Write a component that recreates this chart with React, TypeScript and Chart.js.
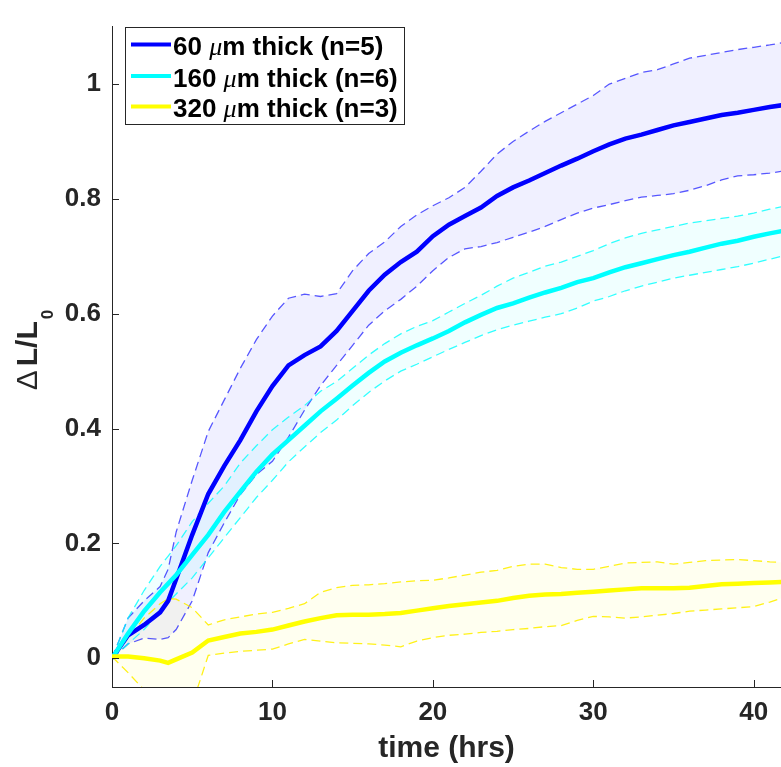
import React, { useEffect, useRef } from 'react';
import { Chart, registerables } from 'chart.js';

Chart.register(...registerables);

// time (hrs)
const timeHrs = [0, 1, 2, 3, 3.5, 4, 5, 6, 7, 8, 9, 10, 11, 12, 13, 14, 15, 16, 17, 18, 19, 20, 21, 22, 23, 24, 25, 26, 27, 28, 29, 30, 31, 32, 33, 34, 35, 36, 37, 38, 39, 40, 41, 42];

// 60 um thick (n=5)
const mean60 = [0, 0.04, 0.058, 0.08, 0.1, 0.138, 0.215, 0.286, 0.335, 0.38, 0.43, 0.474, 0.51, 0.528, 0.543, 0.57, 0.605, 0.64, 0.668, 0.69, 0.708, 0.735, 0.755, 0.77, 0.785, 0.805, 0.82, 0.832, 0.845, 0.858, 0.87, 0.883, 0.895, 0.905, 0.912, 0.92, 0.928, 0.934, 0.94, 0.946, 0.95, 0.955, 0.96, 0.964];
const upper60 = [0, 0.07, 0.1, 0.125, 0.155, 0.22, 0.31, 0.395, 0.45, 0.505, 0.555, 0.596, 0.627, 0.634, 0.63, 0.635, 0.675, 0.705, 0.725, 0.752, 0.772, 0.788, 0.802, 0.82, 0.848, 0.878, 0.9, 0.918, 0.935, 0.95, 0.965, 0.98, 1.0, 1.01, 1.02, 1.025, 1.035, 1.045, 1.05, 1.055, 1.06, 1.064, 1.068, 1.073];
const lower60 = [0, 0.025, 0.035, 0.033, 0.036, 0.05, 0.1, 0.184, 0.236, 0.285, 0.32, 0.343, 0.385, 0.432, 0.475, 0.51, 0.545, 0.58, 0.605, 0.625, 0.648, 0.675, 0.698, 0.713, 0.717, 0.724, 0.733, 0.742, 0.752, 0.764, 0.775, 0.784, 0.79, 0.797, 0.803, 0.806, 0.809, 0.815, 0.823, 0.833, 0.84, 0.842, 0.845, 0.849];

// 160 um thick (n=6)
const mean160 = [0, 0.043, 0.082, 0.115, 0.13, 0.145, 0.18, 0.215, 0.255, 0.29, 0.325, 0.355, 0.38, 0.405, 0.43, 0.452, 0.475, 0.497, 0.517, 0.532, 0.545, 0.557, 0.57, 0.585, 0.598, 0.61, 0.618, 0.628, 0.637, 0.645, 0.655, 0.662, 0.672, 0.681, 0.688, 0.695, 0.702, 0.708, 0.715, 0.722, 0.727, 0.734, 0.74, 0.745];
const upper160 = [0, 0.07, 0.118, 0.16, 0.178, 0.196, 0.238, 0.27, 0.3, 0.34, 0.37, 0.398, 0.42, 0.44, 0.465, 0.482, 0.505, 0.528, 0.548, 0.565, 0.578, 0.588, 0.603, 0.618, 0.632, 0.648, 0.662, 0.672, 0.683, 0.69, 0.7, 0.71, 0.722, 0.732, 0.74, 0.746, 0.752, 0.758, 0.762, 0.766, 0.77, 0.775, 0.782, 0.788];
const lower160 = [0, 0.025, 0.05, 0.082, 0.098, 0.112, 0.14, 0.175, 0.21, 0.245, 0.28, 0.31, 0.342, 0.368, 0.393, 0.415, 0.44, 0.463, 0.483, 0.5, 0.512, 0.525, 0.538, 0.55, 0.562, 0.572, 0.58, 0.587, 0.594, 0.6, 0.61, 0.622, 0.63, 0.64, 0.648, 0.655, 0.662, 0.667, 0.672, 0.677, 0.682, 0.688, 0.695, 0.702];

// 320 um thick (n=3)
const mean320 = [0.003, 0.003, 0.0, -0.004, -0.008, -0.002, 0.01, 0.031, 0.037, 0.043, 0.046, 0.05, 0.057, 0.064, 0.07, 0.075, 0.076, 0.076, 0.077, 0.079, 0.083, 0.087, 0.091, 0.094, 0.097, 0.1, 0.105, 0.109, 0.111, 0.112, 0.114, 0.116, 0.118, 0.12, 0.122, 0.122, 0.122, 0.123, 0.126, 0.129, 0.13, 0.131, 0.132, 0.133];
const upper320 = [0.003, 0.035, 0.07, 0.095, 0.104, 0.103, 0.088, 0.058, 0.067, 0.072, 0.077, 0.08, 0.087, 0.095, 0.115, 0.123, 0.127, 0.128, 0.13, 0.133, 0.135, 0.136, 0.14, 0.145, 0.15, 0.153, 0.16, 0.164, 0.164, 0.158, 0.155, 0.155, 0.16, 0.166, 0.167, 0.168, 0.164, 0.167, 0.17, 0.171, 0.172, 0.17, 0.168, 0.167];
const lower320 = [0.003, -0.025, -0.055, -0.09, -0.1, -0.1, -0.08, 0.005, 0.009, 0.012, 0.014, 0.016, 0.025, 0.033, 0.03, 0.027, 0.026, 0.025, 0.023, 0.02, 0.03, 0.036, 0.04, 0.042, 0.045, 0.047, 0.05, 0.052, 0.055, 0.057, 0.066, 0.073, 0.072, 0.07, 0.072, 0.075, 0.078, 0.082, 0.084, 0.086, 0.088, 0.09, 0.098, 0.107];

const xTickValues = [0, 10, 20, 30, 40];
const xTickLabels = ['0', '10', '20', '30', '40'];
const yTickValues = [0, 0.2, 0.4, 0.6, 0.8, 1];
const yTickLabels = ['0', '0.2', '0.4', '0.6', '0.8', '1'];

const legendLabels = ['60 μm thick (n=5)', '160 μm thick (n=6)', '320 μm thick (n=3)'];
const seriesColors = ['#0000FF', '#00FFFF', '#FFFF00'];
const dashColors = ['rgba(0,0,255,0.65)', 'rgba(0,255,255,0.8)', 'rgba(255,240,0,0.9)'];
const fillColors = ['rgba(0,0,255,0.06)', 'rgba(0,255,255,0.06)', 'rgba(255,255,0,0.06)'];

const xTitle = 'time (hrs)';
const AXIS = '#262626';
const FONT = "'Liberation Sans', Arial, Helvetica, sans-serif";

const pts = (arr: number[]) => arr.map((v, i) => ({ x: timeHrs[i], y: v }));

const overlayPlugin = {
  id: 'overlay',
  afterDraw(chart: any) {
    const { ctx, chartArea, scales } = chart;
    ctx.save();
    // inward tick marks
    ctx.strokeStyle = AXIS;
    ctx.lineWidth = 1;
    xTickValues.forEach((v) => {
      const px = Math.round(scales.x.getPixelForValue(v)) + 0.5;
      ctx.beginPath();
      ctx.moveTo(px, chartArea.bottom);
      ctx.lineTo(px, chartArea.bottom - 7);
      ctx.stroke();
    });
    yTickValues.forEach((v) => {
      const py = Math.round(scales.y.getPixelForValue(v)) + 0.5;
      ctx.beginPath();
      ctx.moveTo(chartArea.left, py);
      ctx.lineTo(chartArea.left + 7, py);
      ctx.stroke();
    });

    // legend
    const bx = 125.5, by = 27.5, bw = 279, bh = 97;
    ctx.fillStyle = '#ffffff';
    ctx.fillRect(bx, by, bw, bh);
    ctx.strokeStyle = AXIS;
    ctx.lineWidth = 1;
    ctx.strokeRect(bx, by, bw, bh);
    const baselines = [55, 86.5, 117];
    legendLabels.forEach((label, i) => {
      const base = baselines[i];
      ctx.strokeStyle = seriesColors[i];
      ctx.lineWidth = 4;
      ctx.beginPath();
      ctx.moveTo(131, base - 10.5);
      ctx.lineTo(171, base - 10.5);
      ctx.stroke();
      const [pre, post] = label.split('μ');
      let x = 173;
      ctx.fillStyle = '#000000';
      ctx.textBaseline = 'alphabetic';
      ctx.textAlign = 'left';
      ctx.font = `bold 26px ${FONT}`;
      ctx.fillText(pre, x, base);
      x += ctx.measureText(pre).width;
      ctx.font = `italic 26px 'Liberation Serif', 'Times New Roman', serif`;
      ctx.fillText('μ', x, base);
      x += ctx.measureText('μ').width;
      ctx.font = `bold 26px ${FONT}`;
      ctx.fillText(post, x, base);
    });

    // y title: ΔL/L0 rotated
    ctx.fillStyle = AXIS;
    ctx.translate(36.5, 350);
    ctx.rotate(-Math.PI / 2);
    ctx.textBaseline = 'alphabetic';
    ctx.textAlign = 'left';
    const deltaFont = `30px ${FONT}`;
    const mainFont = `bold 30px ${FONT}`;
    const subFont = `bold 17px ${FONT}`;
    ctx.font = deltaFont;
    const wD = ctx.measureText('Δ').width;
    ctx.font = mainFont;
    const wL = ctx.measureText('L/L').width;
    ctx.font = subFont;
    const wS = ctx.measureText('0').width;
    const gap1 = 4, gap2 = 2;
    const total = wD + gap1 + wL + gap2 + wS;
    let tx = -total / 2;
    ctx.font = deltaFont;
    ctx.fillText('Δ', tx, 0);
    tx += wD + gap1;
    ctx.font = mainFont;
    ctx.fillText('L/L', tx, 0);
    tx += wL + gap2;
    ctx.font = subFont;
    ctx.fillText('0', tx, 16);
    ctx.restore();
  },
};

export default function App() {
  const canvasRef = useRef<HTMLCanvasElement | null>(null);

  useEffect(() => {
    const canvas = canvasRef.current;
    if (!canvas) return;
    const solid = (data: number[], i: number) => ({
      data: pts(data),
      borderColor: seriesColors[i],
      borderWidth: 4.5,
      pointRadius: 0,
      tension: 0,
      fill: false,
    });
    const dashed = (data: number[], i: number, fillTarget: number | false) => ({
      data: pts(data),
      borderColor: dashColors[i],
      backgroundColor: fillColors[i],
      borderWidth: 1.3,
      borderDash: [9, 5],
      pointRadius: 0,
      tension: 0,
      fill: fillTarget === false ? false : { target: fillTarget, above: fillColors[i], below: fillColors[i] },
    });

    const chart = new Chart(canvas, {
      type: 'line',
      data: {
        datasets: [
          solid(mean320, 2), // 0
          solid(mean160, 1), // 1
          solid(mean60, 0), // 2
          dashed(upper320, 2, 4), // 3
          dashed(lower320, 2, false), // 4
          dashed(upper160, 1, 6), // 5
          dashed(lower160, 1, false), // 6
          dashed(upper60, 0, 8), // 7
          dashed(lower60, 0, false), // 8
        ] as any,
      },
      options: {
        animation: false,
        responsive: false,
        devicePixelRatio: 1,
        layout: { padding: { top: 14, right: 0, left: 0, bottom: 0 } },
        plugins: {
          legend: { display: false },
          tooltip: { enabled: false },
          filler: { drawTime: 'beforeDatasetsDraw' } as any,
        },
        scales: {
          x: {
            type: 'linear',
            min: 0,
            max: 41.7,
            grid: { display: false, drawTicks: false },
            border: { display: true, color: AXIS, width: 1 },
            afterBuildTicks: (s: any) => {
              s.ticks = xTickValues.map((v) => ({ value: v }));
            },
            afterFit: (s: any) => {
              s.height = 80;
            },
            ticks: {
              color: AXIS,
              font: { family: FONT, size: 26, weight: 'bold' },
              padding: 10,
              maxRotation: 0,
              autoSkip: false,
              callback: (v: any) => {
                const idx = xTickValues.indexOf(Number(v));
                return idx >= 0 ? xTickLabels[idx] : '';
              },
            },
            title: {
              display: true,
              text: xTitle,
              color: AXIS,
              font: { family: FONT, size: 30, weight: 'bold' },
              padding: { top: 0, bottom: 0 },
            },
          },
          y: {
            type: 'linear',
            min: -0.05,
            max: 1.1,
            grid: { display: false, drawTicks: false },
            border: { display: true, color: AXIS, width: 1 },
            afterBuildTicks: (s: any) => {
              s.ticks = yTickValues.map((v) => ({ value: v }));
            },
            afterFit: (s: any) => {
              s.width = 112;
            },
            ticks: {
              color: AXIS,
              font: { family: FONT, size: 26, weight: 'bold' },
              padding: 11,
              autoSkip: false,
              callback: (v: any) => {
                const idx = yTickValues.findIndex((t) => Math.abs(t - Number(v)) < 1e-9);
                return idx >= 0 ? yTickLabels[idx] : '';
              },
            },
          },
        },
      },
      plugins: [overlayPlugin],
    });
    return () => chart.destroy();
  }, []);

  return (
    <div style={{ position: 'absolute', left: 0, top: 0, width: 781, height: 767, background: '#ffffff' }}>
      <canvas ref={canvasRef} width={781} height={767} style={{ display: 'block', width: 781, height: 767 }} />
    </div>
  );
}
